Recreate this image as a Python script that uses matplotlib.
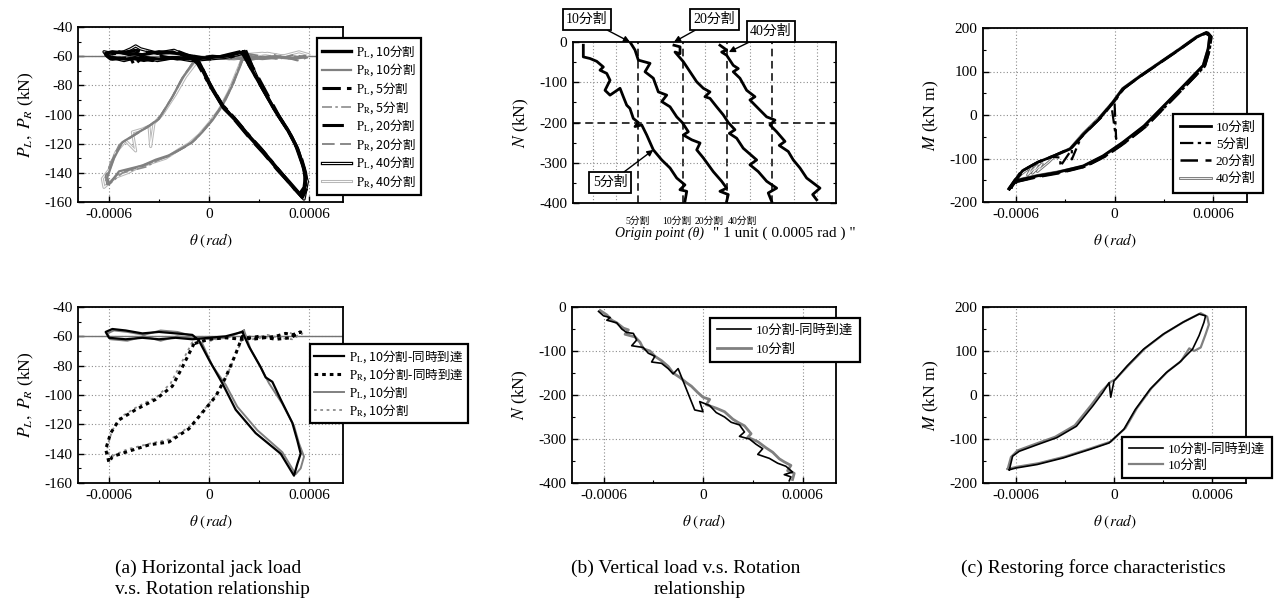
import matplotlib
matplotlib.use('Agg')
import matplotlib.pyplot as plt
from matplotlib.font_manager import FontProperties
from matplotlib.ticker import MultipleLocator, FixedLocator
import numpy as np

plt.rcParams['font.family'] = ['Liberation Serif', 'Noto Sans CJK JP']
plt.rcParams['mathtext.fontset'] = 'stix'
plt.rcParams['axes.unicode_minus'] = False

# ---------------- data (theta [rad], value) ----------------
# (a) top : horizontal jack loads
PL10 = [(0.00021,-57),(0.00024,-66),(0.00032,-82),(0.00040,-98),(0.00048,-112),(0.00053,-123),(0.00057,-137),(0.00058,-148),(0.000556,-156),(0.00048,-146),(0.00040,-136),(0.00032,-125),(0.00024,-115),(0.00016,-104),(0.00008,-94),(0.00000,-78),(-0.00006,-64),(-0.00010,-60),(-0.00020,-58),(-0.00030,-57),(-0.00040,-59),(-0.00050,-58),(-0.00058,-57),(-0.00062,-58),(-0.00060,-61),(-0.00050,-62),(-0.00040,-61),(-0.00030,-62),(-0.00020,-61),(-0.00010,-62),(0.00000,-61),(0.00010,-60),(0.00021,-57)]
PL5 = [(0.00020,-58),(0.00025,-68),(0.00033,-84),(0.00041,-100),(0.00049,-114),(0.00054,-126),(0.00058,-141),(0.00057,-150),(0.00054,-155),(0.00047,-145),(0.00039,-134),(0.00031,-123),(0.00023,-113),(0.00015,-102),(0.00007,-92),(-0.00001,-77),(-0.00007,-65),(-0.00011,-61),(-0.00022,-57),(-0.00033,-58),(-0.00044,-56),(-0.00055,-58),(-0.00061,-59),(-0.00058,-62),(-0.00047,-61),(-0.00045,-66),(-0.00041,-62),(-0.00034,-63),(-0.00022,-61),(-0.00010,-62),(0.00002,-60),(0.00012,-61),(0.00020,-58)]
PL20 = [(0.00022,-56),(0.00026,-67),(0.00034,-84),(0.00042,-101),(0.00050,-116),(0.00055,-128),(0.00058,-140),(0.00059,-150),(0.00056,-157),(0.00049,-148),(0.00041,-138),(0.00033,-127),(0.00025,-117),(0.00017,-106),(0.00009,-95),(0.00001,-80),(-0.00005,-66),(-0.00009,-61),(-0.00018,-57),(-0.00028,-58),(-0.00038,-57),(-0.00048,-59),(-0.00057,-56),(-0.00062,-59),(-0.00059,-62),(-0.00049,-61),(-0.00039,-63),(-0.00029,-60),(-0.00019,-62),(-0.00009,-60),(0.00001,-62),(0.00011,-59),(0.00022,-56)]
PL40 = [(0.00021,-58),(0.00025,-65),(0.00031,-80),(0.00039,-96),(0.00047,-110),(0.00052,-121),(0.00056,-134),(0.00059,-146),(0.00057,-158),(0.00049,-148),(0.00041,-137),(0.00033,-126),(0.00025,-116),(0.00017,-105),(0.00009,-96),(0.00001,-81),(-0.00005,-67),(-0.00009,-62),(-0.00021,-56),(-0.00031,-58),(-0.00041,-55),(-0.00044,-53),(-0.00047,-55),(-0.00051,-57),(-0.00059,-58),(-0.00063,-57),(-0.00061,-60),(-0.00051,-63),(-0.00041,-60),(-0.00031,-63),(-0.00021,-61),(-0.00011,-63),(-0.00001,-62),(0.00009,-61),(0.00021,-58)]
PR10 = [(0.00021,-59),(0.00030,-61),(0.00040,-60),(0.00050,-61),(0.00058,-60),(0.00052,-62),(0.00042,-61),(0.00032,-62),(0.00022,-61),(0.00012,-62),(0.00002,-61),(-0.00008,-62),(-0.00016,-75),(-0.00022,-88),(-0.00030,-103),(-0.00036,-108),(-0.00042,-112),(-0.00052,-119),(-0.00057,-130),(-0.00061,-143),(-0.00060,-148),(-0.00054,-139),(-0.00047,-137),(-0.00040,-135),(-0.00032,-131),(-0.00024,-128),(-0.00016,-123),(-0.00010,-119),(-0.00004,-112),(0.00002,-104),(0.00008,-94),(0.00014,-80),(0.00019,-66),(0.00021,-59)]
PR5 = [(0.00020,-60),(0.00029,-62),(0.00039,-59),(0.00049,-62),(0.00057,-61),(0.00051,-60),(0.00041,-62),(0.00031,-60),(0.00021,-62),(0.00011,-60),(0.00001,-62),(-0.00009,-63),(-0.00017,-77),(-0.00023,-90),(-0.00031,-104),(-0.00038,-109),(-0.00045,-114),(-0.00054,-121),(-0.00059,-133),(-0.00062,-145),(-0.00059,-147),(-0.00052,-140),(-0.00045,-138),(-0.00038,-136),(-0.00030,-131),(-0.00022,-127),(-0.00014,-122),(-0.00008,-117),(-0.00002,-109),(0.00004,-100),(0.00010,-90),(0.00015,-78),(0.00020,-60)]
PR20 = [(0.00022,-58),(0.00031,-60),(0.00041,-62),(0.00051,-59),(0.00059,-61),(0.00053,-63),(0.00043,-60),(0.00033,-61),(0.00023,-63),(0.00013,-61),(0.00003,-60),(-0.00007,-61),(-0.00015,-73),(-0.00021,-86),(-0.00029,-101),(-0.00035,-107),(-0.00043,-113),(-0.00053,-120),(-0.00058,-131),(-0.00062,-142),(-0.00061,-149),(-0.00055,-141),(-0.00048,-138),(-0.00041,-136),(-0.00033,-132),(-0.00025,-129),(-0.00017,-124),(-0.00011,-120),(-0.00005,-113),(0.00001,-105),(0.00007,-95),(0.00013,-82),(0.00018,-68),(0.00022,-58)]
PR40 = [(0.00021,-59),(0.00032,-58),(0.00044,-60),(0.00054,-57),(0.00060,-59),(0.00055,-61),(0.00045,-60),(0.00035,-58),(0.00025,-60),(0.00015,-62),(0.00005,-61),(-0.00006,-62),(-0.00014,-74),(-0.00020,-86),(-0.00028,-100),(-0.00033,-106),(-0.00035,-122),(-0.00036,-108),(-0.00040,-110),(-0.00046,-112),(-0.00044,-125),(-0.00050,-118),(-0.00056,-126),(-0.00060,-138),(-0.00064,-144),(-0.00063,-150),(-0.00056,-143),(-0.00049,-140),(-0.00042,-136),(-0.00034,-133),(-0.00026,-130),(-0.00018,-124),(-0.00012,-120),(-0.00006,-114),(0.00000,-106),(0.00006,-97),(0.00012,-84),(0.00017,-70),(0.00021,-59)]

# (a) bottom
PL_SIM = [(0.00020,-57),(0.00024,-67),(0.00031,-81),(0.00034,-88),(0.00038,-91),(0.00043,-103),(0.00050,-119),(0.00053,-131),(0.00055,-140),(0.00053,-147),(0.00051,-155),(0.00043,-140),(0.00028,-126),(0.00016,-110),(0.00008,-92),(0.00000,-76),(-0.00006,-63),(-0.00010,-59),(-0.00020,-58),(-0.00030,-57),(-0.00040,-58),(-0.00050,-56),(-0.00058,-55),(-0.00062,-57),(-0.00060,-61),(-0.00050,-62),(-0.00040,-61),(-0.00030,-62),(-0.00020,-61),(-0.00010,-62),(0.00000,-61),(0.00010,-60),(0.00020,-57)]
PL_10B = [(0.00021,-56),(0.00025,-69),(0.00030,-79),(0.00036,-92),(0.00044,-106),(0.00051,-121),(0.00054,-133),(0.00057,-142),(0.00055,-150),(0.00052,-154),(0.00044,-139),(0.00029,-124),(0.00017,-108),(0.00010,-93),(0.00002,-80),(-0.00004,-65),(-0.00009,-60),(-0.00019,-57),(-0.00029,-56),(-0.00039,-59),(-0.00049,-57),(-0.00057,-56),(-0.00061,-58),(-0.00059,-62),(-0.00049,-63),(-0.00039,-60),(-0.00029,-63),(-0.00019,-60),(-0.00009,-61),(0.00001,-62),(0.00011,-61),(0.00021,-56)]
PR_SIM = [(-0.00009,-65),(-0.00016,-81),(-0.00022,-94),(-0.00032,-103),(-0.00044,-110),(-0.00054,-117),(-0.00059,-126),(-0.00062,-137),(-0.00060,-146),(-0.00058,-142),(-0.00050,-139),(-0.00036,-134),(-0.00024,-132),(-0.00012,-123),(-0.00004,-112),(0.00004,-101),(0.00010,-88),(0.00016,-72),(0.00020,-60),(0.00026,-62),(0.00033,-61),(0.00040,-60),(0.00046,-58),(0.00050,-59),(0.00055,-57),(0.00049,-61),(0.00040,-62),(0.00030,-60),(0.00020,-62),(0.00010,-61),(0.00000,-62),(-0.00009,-65)]
PR_10B = [(-0.00010,-64),(-0.00017,-79),(-0.00023,-92),(-0.00031,-101),(-0.00043,-108),(-0.00053,-115),(-0.00058,-124),(-0.00061,-135),(-0.00060,-144),(-0.00057,-141),(-0.00049,-137),(-0.00035,-133),(-0.00023,-130),(-0.00011,-121),(-0.00003,-110),(0.00005,-99),(0.00011,-86),(0.00017,-70),(0.00021,-59),(0.00028,-61),(0.00035,-59),(0.00042,-61),(0.00048,-57),(0.00052,-60),(0.00056,-58),(0.00050,-62),(0.00041,-61),(0.00031,-61),(0.00021,-63),(0.00011,-60),(0.00001,-63),(-0.00010,-64)]

# (b) top : N vs theta, theta relative to each origin
N5 = [(-0.000612,-8),(-0.000612,-37),(-0.000537,-41),(-0.000462,-48),(-0.000388,-62),(-0.000425,-70),(-0.000350,-78),(-0.000313,-95),(-0.000369,-120),(-0.000313,-132),(-0.000201,-115),(-0.000164,-136),(-0.000126,-157),(-0.000090,-165),(-0.000052,-190),(0.000004,-200),(-0.000033,-210),(0.000042,-206),(0.000098,-231),(0.000172,-268),(0.000266,-293),(0.000359,-313),(0.000434,-338),(0.000526,-355),(0.000470,-367),(0.000546,-371),(0.000526,-396)]
N10 = [(-0.000589,0),(-0.000533,-20),(-0.000496,-45),(-0.000365,-53),(-0.000421,-74),(-0.000328,-90),(-0.000272,-124),(-0.000178,-132),(-0.000234,-148),(-0.000141,-161),(-0.000066,-186),(-0.000004,-200),(0.000064,-223),(0.000008,-231),(0.000102,-243),(0.000195,-251),(0.000158,-268),(0.000232,-288),(0.000343,-322),(0.000437,-346),(0.000493,-363),(0.000418,-371),(0.000511,-379),(0.000493,-396)]
N20 = [(-0.000597,-8),(-0.000529,-12),(-0.000529,-29),(-0.000585,-25),(-0.000492,-49),(-0.000417,-74),(-0.000342,-99),(-0.000268,-115),(-0.000194,-124),(-0.000250,-136),(-0.000194,-140),(-0.000119,-161),(-0.000045,-181),(0.000011,-200),(0.000086,-218),(0.000023,-227),(0.000105,-239),(0.000179,-264),(0.000329,-293),(0.000254,-305),(0.000347,-322),(0.000441,-346),(0.000553,-363),(0.000459,-375),(0.000497,-396)]
N40 = [(-0.000582,-8),(-0.000507,-20),(-0.000563,-25),(-0.000507,-33),(-0.000433,-58),(-0.000377,-66),(-0.000433,-74),(-0.000358,-90),(-0.000283,-120),(-0.000190,-136),(-0.000246,-144),(-0.000153,-165),(-0.000059,-186),(0.000034,-194),(-0.000022,-206),(0.000053,-223),(0.000146,-247),(0.000082,-257),(0.000183,-272),(0.000239,-293),(0.000314,-313),(0.000389,-338),(0.000538,-363),(0.000456,-379),(0.000501,-392)]
B_DIVS = ['5分割', '10分割', '20分割', '40分割']

# (b) bottom
N_SIM = [(-0.00063,-10),(-0.00060,-20),(-0.00056,-24),(-0.00058,-30),(-0.00052,-36),(-0.00049,-50),(-0.00046,-58),(-0.00042,-60),(-0.00040,-75),(-0.00043,-88),(-0.00036,-92),(-0.00033,-105),(-0.00029,-112),(-0.00031,-125),(-0.00025,-128),(-0.00021,-140),(-0.00018,-152),(-0.00015,-140),(-0.00005,-234),(0.00000,-238),(-0.00002,-215),(0.00004,-224),(0.00008,-240),(0.00013,-250),(0.00017,-262),(0.00022,-268),(0.00025,-284),(0.00022,-294),(0.00028,-300),(0.00032,-312),(0.00036,-322),(0.00033,-335),(0.00040,-344),(0.00045,-355),(0.00050,-362),(0.00054,-375),(0.00049,-381),(0.00053,-386),(0.00052,-395)]
N_10B = [(-0.00062,-8),(-0.00058,-18),(-0.00055,-30),(-0.00052,-36),(-0.00048,-48),(-0.00045,-52),(-0.00047,-62),(-0.00041,-68),(-0.00038,-80),(-0.00036,-95),(-0.00032,-100),(-0.00029,-112),(-0.00025,-122),(-0.00021,-135),(-0.00018,-150),(-0.00014,-160),(-0.00010,-172),(-0.00007,-180),(-0.00003,-195),(0.00000,-205),(0.00004,-210),(0.00002,-222),(0.00008,-230),(0.00013,-238),(0.00018,-255),(0.00021,-262),(0.00025,-270),(0.00029,-288),(0.00027,-296),(0.00033,-306),(0.00038,-320),(0.00042,-330),(0.00046,-345),(0.00049,-352),(0.00053,-360),(0.00051,-372),(0.00055,-378),(0.00054,-392)]

# (c) top : M vs theta
M10 = [(-0.00064,-170),(-0.00060,-147),(-0.00056,-128),(-0.00047,-109),(-0.00037,-94),(-0.00027,-78),(-0.00019,-45),(-0.00009,-8),(-0.00001,29),(0.00005,60),(0.00016,90),(0.00028,121),(0.00040,152),(0.00050,179),(0.00056,190),(0.00058,182),(0.00057,152),(0.00054,114),(0.00042,67),(0.00030,21),(0.00018,-25),(0.00005,-63),(-0.00007,-94),(-0.00019,-117),(-0.00035,-132),(-0.00047,-140),(-0.00060,-151),(-0.00064,-170)]
M5 = [(-0.00065,-172),(-0.00061,-150),(-0.00057,-130),(-0.00048,-111),(-0.00038,-96),(-0.00033,-98),(-0.00033,-118),(-0.00028,-90),(-0.00026,-80),(-0.00026,-102),(-0.00020,-48),(-0.00010,-10),(-0.00002,25),(0.00001,-55),(0.00000,30),(0.00005,58),(0.00015,88),(0.00027,119),(0.00039,150),(0.00049,177),(0.00055,188),(0.00059,180),(0.00058,150),(0.00055,112),(0.00043,65),(0.00031,19),(0.00019,-27),(0.00006,-65),(-0.00006,-96),(-0.00018,-119),(-0.00034,-133),(-0.00046,-141),(-0.00059,-153),(-0.00065,-172)]
M20 = [(-0.00063,-168),(-0.00059,-145),(-0.00055,-126),(-0.00046,-107),(-0.00036,-92),(-0.00026,-75),(-0.00018,-42),(-0.00008,-5),(0.00000,32),(0.00006,62),(0.00017,92),(0.00029,123),(0.00041,154),(0.00051,181),(0.00057,189),(0.00059,180),(0.00058,150),(0.00055,112),(0.00043,65),(0.00031,19),(0.00019,-27),(0.00006,-65),(-0.00006,-96),(-0.00018,-119),(-0.00034,-134),(-0.00046,-142),(-0.00059,-153),(-0.00063,-168)]
M40 = [(-0.00064,-168),(-0.00059,-142),(-0.00054,-128),(-0.00050,-118),(-0.00053,-138),(-0.00047,-116),(-0.00050,-134),(-0.00044,-112),(-0.00047,-130),(-0.00040,-108),(-0.00036,-93),(-0.00027,-77),(-0.00019,-42),(-0.00009,-5),(-0.00001,30),(0.00005,61),(0.00016,91),(0.00028,122),(0.00040,153),(0.00050,180),(0.00056,189),(0.00058,181),(0.00057,151),(0.00054,113),(0.00042,66),(0.00030,20),(0.00018,-26),(0.00005,-64),(-0.00007,-95),(-0.00019,-118),(-0.00035,-131),(-0.00047,-139),(-0.00060,-150),(-0.00064,-168)]

# (c) bottom
M_SIM = [(-0.00064,-170),(-0.00062,-139),(-0.00058,-128),(-0.00047,-113),(-0.00035,-97),(-0.00023,-71),(-0.00013,-25),(-0.00007,5),(-0.00003,28),(-0.00002,-5),(0.00000,32),(0.00008,66),(0.00018,104),(0.00030,138),(0.00042,165),(0.00052,184),(0.00056,180),(0.00055,165),(0.00052,135),(0.00048,104),(0.00040,74),(0.00032,51),(0.00022,13),(0.00013,-33),(0.00006,-78),(-0.00003,-109),(-0.00015,-124),(-0.00031,-143),(-0.00047,-158),(-0.00060,-166),(-0.00064,-170)]
M_10B = [(-0.00065,-168),(-0.00063,-141),(-0.00059,-126),(-0.00048,-111),(-0.00036,-95),(-0.00024,-69),(-0.00014,-23),(-0.00008,7),(-0.00002,30),(0.00001,36),(0.00009,68),(0.00019,106),(0.00031,140),(0.00043,167),(0.00053,186),(0.00057,178),(0.00058,160),(0.00056,138),(0.00053,108),(0.00049,100),(0.00046,106),(0.00041,77),(0.00033,54),(0.00023,16),(0.00014,-30),(0.00007,-75),(-0.00002,-106),(-0.00014,-121),(-0.00030,-140),(-0.00046,-155),(-0.00059,-163),(-0.00065,-168)]

X_TICKS = [-0.0006, 0, 0.0006]
X_TICKLABELS = ['-0.0006', '0', '0.0006']

# ---------------- figure ----------------
W, H = 1279, 611
fig = plt.figure(figsize=(W / 100, H / 100), dpi=100)


def add_ax(x0, y0, x1, y1):
    return fig.add_axes([x0 / W, 1 - y1 / H, (x1 - x0) / W, (y1 - y0) / H])


def xy(pairs, dx=0.0):
    a = np.array(pairs, dtype=float)
    return a[:, 0] + dx, a[:, 1]


def style(ax):
    for s in ax.spines.values():
        s.set_linewidth(1.3)
    ax.tick_params(direction='in', labelsize=11, length=4, width=1, pad=4)
    ax.tick_params(which='minor', direction='in', length=2.5, width=0.8)


def grid(ax):
    ax.grid(True, which='major', linestyle=(0, (1, 2)), color='0.55', lw=0.8)
    ax.set_axisbelow(True)


def theta_axis(ax):
    ax.set_xticks(X_TICKS)
    ax.set_xticklabels(X_TICKLABELS)
    ax.xaxis.set_minor_locator(FixedLocator([-0.0003, 0.0003]))
    ax.set_xlabel(r'$\theta\ (rad)$', fontsize=11, labelpad=8)


def dbl(ax, x, y, color, lw_out=2.4, lw_in=0.8):
    l1, = ax.plot(x, y, color=color, lw=lw_out, solid_joinstyle='round')
    l2, = ax.plot(x, y, color='white', lw=lw_in)
    return (l1, l2)


CJK = FontProperties(family=['Noto Sans CJK JP'], size=9)
SERIF_CJK = FontProperties(family=['Liberation Serif', 'Noto Sans CJK JP'], size=9.5)


def legend(ax, handles, labels, x, y, prop, **kw):
    leg = ax.legend(handles, labels, loc='upper left', bbox_to_anchor=(x / W, 1 - y / H),
                    bbox_transform=fig.transFigure, prop=prop, frameon=True, fancybox=False,
                    edgecolor='black', framealpha=1, borderaxespad=0, **kw)
    leg.get_frame().set_linewidth(1.6)
    return leg


DASHDOT = (0, (6, 2, 1.5, 2))
DASH = (0, (7, 3))

# ---- (a) top ----
ax = add_ax(78, 27, 343, 202)
style(ax); grid(ax)
ax.set_xlim(-0.000786, 0.000804); ax.set_ylim(-160, -40)
ax.set_yticks(range(-160, -39, 20)); ax.yaxis.set_minor_locator(MultipleLocator(10))
theta_axis(ax)
ax.axhline(-60, color='0.45', lw=1.0)
hPR40 = dbl(ax, *xy(PR40), '0.72', 2.2, 0.7)
hPR20, = ax.plot(*xy(PR20), color='0.5', lw=1.3, linestyle=DASH)
hPR5, = ax.plot(*xy(PR5), color='0.55', lw=1.2, linestyle=DASHDOT)
hPR10, = ax.plot(*xy(PR10), color='0.5', lw=1.6)
hPL40 = dbl(ax, *xy(PL40), 'black', 2.4, 0.7)
hPL20, = ax.plot(*xy(PL20), color='black', lw=2.2, linestyle=DASH)
hPL5, = ax.plot(*xy(PL5), color='black', lw=2.2, linestyle=DASHDOT)
hPL10, = ax.plot(*xy(PL10), color='black', lw=2.4)
ax.set_ylabel(r'$P_{L},\ P_{R}$ (kN)', fontsize=12.5, labelpad=6)
labs = [r'$\mathrm{P}_{\mathrm{L}}$, 10分割', r'$\mathrm{P}_{\mathrm{R}}$, 10分割',
        r'$\mathrm{P}_{\mathrm{L}}$, 5分割', r'$\mathrm{P}_{\mathrm{R}}$, 5分割',
        r'$\mathrm{P}_{\mathrm{L}}$, 20分割', r'$\mathrm{P}_{\mathrm{R}}$, 20分割',
        r'$\mathrm{P}_{\mathrm{L}}$, 40分割', r'$\mathrm{P}_{\mathrm{R}}$, 40分割']
legend(ax, [hPL10, hPR10, hPL5, hPR5, hPL20, hPR20, hPL40, hPR40], labs, 317, 38, CJK,
       handlelength=2.3, handletextpad=0.4, labelspacing=0.15, borderpad=0.4)

# ---- (a) bottom ----
ax = add_ax(78, 307, 343, 483)
style(ax); grid(ax)
ax.set_xlim(-0.000786, 0.000804); ax.set_ylim(-160, -40)
ax.set_yticks(range(-160, -39, 20)); ax.yaxis.set_minor_locator(MultipleLocator(10))
theta_axis(ax)
ax.axhline(-60, color='0.45', lw=1.0)
h3, = ax.plot(*xy(PL_10B), color='0.5', lw=1.4)
h4, = ax.plot(*xy(PR_10B), color='0.55', lw=1.3, linestyle=(0, (1.5, 2)))
h1, = ax.plot(*xy(PL_SIM), color='black', lw=1.6)
h2, = ax.plot(*xy(PR_SIM), color='black', lw=2.2, linestyle=(0, (1.2, 1.3)))
ax.set_ylabel(r'$P_{L},\ P_{R}$ (kN)', fontsize=12.5, labelpad=6)
labs = [r'$\mathrm{P}_{\mathrm{L}}$, 10分割-同時到達', r'$\mathrm{P}_{\mathrm{R}}$, 10分割-同時到達',
        r'$\mathrm{P}_{\mathrm{L}}$, 10分割', r'$\mathrm{P}_{\mathrm{R}}$, 10分割']
legend(ax, [h1, h2, h3, h4], labs, 310, 344, CJK,
       handlelength=2.4, handletextpad=0.4, labelspacing=0.1, borderpad=0.35)

# ---- (b) top ----
ax = add_ax(573, 42, 836, 203)
style(ax)
UNIT = 0.00025
ax.set_xlim(-0.91 * UNIT, 10.87 * UNIT); ax.set_ylim(-400, 0)
ax.set_yticks(range(-400, 1, 100)); ax.yaxis.set_minor_locator(MultipleLocator(50))
ax.tick_params(axis='y', which='both', right=True)
ax.set_xticks([])
origins = [2, 4, 6, 8]
for k in range(11):
    if k in origins:
        ax.axvline(k * UNIT, color='black', lw=1.1, linestyle=(0, (5, 3)), zorder=1)
    else:
        ax.axvline(k * UNIT, color='0.55', lw=0.8, linestyle=(0, (1, 2)), zorder=1)
for v in (-100, -300):
    ax.axhline(v, color='0.55', lw=0.8, linestyle=(0, (1, 2)), zorder=1)
ax.axhline(-200, color='black', lw=1.1, linestyle=(0, (5, 3)), zorder=1)
for pairs, k in zip([N5, N10, N20, N40], origins):
    ax.plot(*xy(pairs, k * UNIT), color='black', lw=2.0)
ax.set_ylabel(r'$N$ (kN)', fontsize=12.5, labelpad=6)
box = dict(boxstyle='square,pad=0.25', fc='white', ec='black', lw=1.3)
arr = dict(arrowstyle='-|>', color='black', lw=1.0, mutation_scale=9, shrinkA=0, shrinkB=0)
ann = [('10分割', (N10[0][0] + 4 * UNIT, N10[0][1]), (587, 19.5)),
       ('20分割', (N20[0][0] + 6 * UNIT, N20[0][1] + 8), (714.5, 19.5)),
       ('40分割', (N40[2][0] + 8 * UNIT + 0.00008, N40[2][1]), (771, 31.5)),
       ('5分割', (N5[19][0] + 2 * UNIT, N5[19][1]), (610, 182.5))]
for s, pt, (tx, ty) in ann:
    ax.annotate(s, xy=pt, xytext=(tx, H - ty), textcoords='figure pixels', ha='center', va='center',
                fontsize=10, bbox=box, arrowprops=arr, annotation_clip=False, zorder=5,
                family=['Liberation Serif', 'Noto Sans CJK JP'])
for s, px in zip(B_DIVS, [637.5, 676.5, 709.5, 742.5]):
    fig.text(px / W, 1 - 221 / H, s, ha='center', va='center', fontsize=7,
             family=['Liberation Serif', 'Noto Sans CJK JP'])
fig.text(659 / W, 1 - 233 / H, 'Origin point (θ)', ha='center', va='center', fontsize=10, style='italic')
fig.text(713 / W, 1 - 233 / H, '" 1 unit ( 0.0005 rad ) "', ha='left', va='center', fontsize=11)

# ---- (b) bottom ----
ax = add_ax(572, 307, 836, 483)
style(ax); grid(ax)
ax.set_xlim(-0.000790, 0.000802); ax.set_ylim(-400, 0)
ax.set_yticks(range(-400, 1, 100)); ax.yaxis.set_minor_locator(MultipleLocator(50))
theta_axis(ax)
g, = ax.plot(*xy(N_10B), color='0.5', lw=2.0)
b, = ax.plot(*xy(N_SIM), color='black', lw=1.2)
ax.set_ylabel(r'$N$ (kN)', fontsize=12.5, labelpad=6)
legend(ax, [b, g], ['10分割-同時到達', '10分割'], 710, 318, SERIF_CJK,
       handlelength=2.6, handletextpad=0.4, labelspacing=0.5, borderpad=0.5)

# ---- (c) top ----
ax = add_ax(983, 28, 1247, 202)
style(ax); grid(ax)
ax.set_xlim(-0.000801, 0.000807); ax.set_ylim(-200, 200)
ax.set_yticks(range(-200, 201, 100)); ax.yaxis.set_minor_locator(MultipleLocator(50))
theta_axis(ax)
c40 = dbl(ax, *xy(M40), '0.45', 2.0, 0.6)
c20, = ax.plot(*xy(M20), color='black', lw=1.8, linestyle=DASH)
c5, = ax.plot(*xy(M5), color='black', lw=1.6, linestyle=DASHDOT)
c10, = ax.plot(*xy(M10), color='black', lw=2.0)
ax.set_ylabel(r'$M$ (kN m)', fontsize=12.5, labelpad=6)
legend(ax, [c10, c5, c20, c40], ['10分割', '5分割', '20分割', '40分割'], 1173, 114, SERIF_CJK,
       handlelength=2.3, handletextpad=0.4, labelspacing=0.38, borderpad=0.55)

# ---- (c) bottom ----
ax = add_ax(983, 307, 1246, 483)
style(ax); grid(ax)
ax.set_xlim(-0.000801, 0.000807); ax.set_ylim(-200, 200)
ax.set_yticks(range(-200, 201, 100)); ax.yaxis.set_minor_locator(MultipleLocator(50))
theta_axis(ax)
g, = ax.plot(*xy(M_10B), color='0.5', lw=1.6)
b, = ax.plot(*xy(M_SIM), color='black', lw=1.2)
ax.set_ylabel(r'$M$ (kN m)', fontsize=12.5, labelpad=6)
legend(ax, [b, g], ['10分割-同時到達', '10分割'], 1122, 437, SERIF_CJK,
       handlelength=2.6, handletextpad=0.4, labelspacing=0.25, borderpad=0.5)

# ---- captions ----
cap = dict(ha='center', va='center', fontsize=14)
fig.text(208 / W, 1 - 568 / H, '(a) Horizontal jack load', **cap)
fig.text(212 / W, 1 - 590 / H, 'v.s. Rotation relationship', **cap)
fig.text(686 / W, 1 - 568 / H, '(b) Vertical load v.s. Rotation', **cap)
fig.text(700 / W, 1 - 590 / H, 'relationship', **cap)
fig.text(1093 / W, 1 - 568 / H, '(c) Restoring force characteristics', **cap)

fig.savefig('out.png', dpi=100, facecolor='white')
